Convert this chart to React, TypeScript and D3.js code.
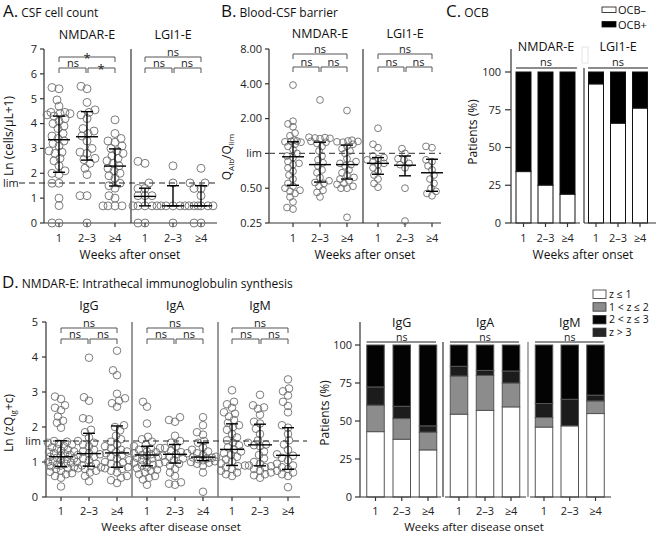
import React from "react";
import * as d3 from "d3";

const FONT = "'Open Sans', 'DejaVu Sans', sans-serif";

const weeks = ["1", "2–3", "≥4"];

// ---------- Panel A: CSF cell count, Ln(cells/µL+1)
const csfTicks = [0, 1, 2, 3, 4, 5, 6, 7];
const csfLim = 1.61;
const csfNmdar = [
  [5.45, 5.4, 4.95, 4.7, 4.45, 4.45, 4.4, 4.4, 4.35, 4.3, 4.2, 4.1, 4.0, 3.9, 3.8, 3.6, 3.5, 3.4, 3.3, 3.2, 3.1, 2.9, 2.85, 2.8, 2.6, 2.5, 2.3, 2.1, 2.0, 1.95, 1.6, 1.6, 1.0, 0.7, 0, 0],
  [5.5, 5.4, 4.85, 4.55, 4.45, 4.35, 4.2, 3.8, 3.7, 3.6, 3.5, 3.3, 3.0, 2.85, 2.8, 2.6, 2.55, 2.4, 2.2, 1.95, 1.1, 1.1, 0],
  [4.15, 3.6, 3.4, 3.3, 3.25, 3.1, 3.0, 2.9, 2.8, 2.7, 2.6, 2.5, 2.4, 2.3, 2.2, 2.1, 2.0, 1.9, 1.8, 1.6, 1.5, 1.4, 1.1, 1.0, 0.69, 0.69, 0.69, 0.69],
];
const csfLgi1 = [
  [2.48, 2.4, 1.61, 1.39, 1.39, 1.1, 1.1, 1.1, 0.69, 0.69, 0.69, 0.69, 0.69, 0, 0],
  [2.3, 1.61, 0.69, 0.69, 0.69, 0.69, 0.69, 0],
  [2.2, 1.61, 1.61, 1.39, 1.39, 1.1, 0.69, 0.69, 0.69, 0.69, 0.69, 0.69, 0, 0],
];
// [median, q1, q3]
const csfStatsNmdar = [[3.35, 2.04, 4.3], [3.47, 2.53, 4.48], [2.29, 1.49, 2.98]];
const csfStatsLgi1 = [[1.07, 0.69, 1.4], [0.69, 0.69, 1.5], [0.69, 0.69, 1.5]];
// [1 vs 2–3, 2–3 vs ≥4, 1 vs ≥4]
const csfSigNmdar = ["ns", "*", "*"];
const csfSigLgi1 = ["ns", "ns", "ns"];

// ---------- Panel B: Blood-CSF barrier, QAlb/Qlim
const qTicks = [0.25, 0.5, 1, 2, 4, 8];
const qTickLabels = ["0.25", "0.50", "lim", "2.00", "4.00", "8.00"];
const qNmdar = [
  [3.9, 1.9, 1.8, 1.7, 1.5, 1.42, 1.3, 1.28, 1.27, 1.26, 1.25, 1.2, 1.15, 1.08, 1.0, 0.95, 0.92, 0.85, 0.82, 0.8, 0.75, 0.7, 0.65, 0.6, 0.55, 0.52, 0.5, 0.48, 0.47, 0.45, 0.42, 0.38, 0.34, 0.33],
  [2.9, 1.38, 1.37, 1.36, 1.35, 1.34, 1.27, 1.25, 1.22, 1.15, 1.05, 0.95, 0.88, 0.83, 0.78, 0.72, 0.68, 0.62, 0.58, 0.56, 0.55, 0.52, 0.48, 0.46, 0.42],
  [2.35, 1.3, 1.28, 1.27, 1.26, 1.25, 1.2, 1.15, 1.1, 1.05, 1.0, 0.9, 0.85, 0.82, 0.8, 0.78, 0.72, 0.68, 0.65, 0.62, 0.6, 0.58, 0.55, 0.54, 0.52, 0.5, 0.5, 0.28],
];
const qLgi1 = [
  [1.65, 1.2, 1.12, 0.95, 0.92, 0.9, 0.88, 0.85, 0.82, 0.8, 0.75, 0.7, 0.65, 0.6, 0.55, 0.51],
  [1.1, 1.0, 0.9, 0.88, 0.82, 0.8, 0.75, 0.5, 0.26],
  [1.15, 1.12, 0.88, 0.85, 0.78, 0.72, 0.65, 0.6, 0.55, 0.5, 0.47, 0.45, 0.43],
];
const qStatsNmdar = [[0.935, 0.53, 1.26], [0.8, 0.565, 1.25], [0.8, 0.6, 1.18]];
const qStatsLgi1 = [[0.82, 0.66, 0.92], [0.79, 0.64, 0.95], [0.68, 0.47, 0.89]];
const qSigNmdar = ["ns", "ns", "ns"];
const qSigLgi1 = ["ns", "ns", "ns"];

// ---------- Panel C: OCB (% patients OCB–)
const ocbNegNmdar = [34, 25, 19];
const ocbNegLgi1 = [92, 66, 76];
const pctTicks = [0, 25, 50, 75, 100];

// ---------- Panel D left: Ln(zQIg+c)
const igClasses = ["IgG", "IgA", "IgM"];
const igTicks = [0, 1, 2, 3, 4, 5];
const igLim = 1.6;
const igG = [
  [2.87, 2.8, 2.62, 2.55, 2.48, 2.3, 2.18, 2.12, 1.98, 1.6, 1.58, 1.55, 1.52, 1.5, 1.45, 1.42, 1.38, 1.35, 1.32, 1.3, 1.28, 1.25, 1.22, 1.2, 1.18, 1.15, 1.12, 1.1, 1.08, 1.05, 1.02, 1.0, 0.98, 0.95, 0.92, 0.9, 0.88, 0.85, 0.82, 0.8, 0.75, 0.72, 0.68, 0.65, 0.6, 0.55, 0.3],
  [3.98, 2.85, 2.75, 2.25, 2.22, 1.92, 1.85, 1.7, 1.6, 1.55, 1.5, 1.45, 1.35, 1.3, 1.25, 1.22, 1.2, 1.15, 1.1, 1.05, 1.0, 0.95, 0.9, 0.88, 0.85, 0.82, 0.8, 0.75, 0.7, 0.6, 0.45],
  [4.18, 3.62, 3.48, 2.95, 2.82, 2.75, 2.68, 2.58, 2.05, 2.0, 1.9, 1.75, 1.65, 1.58, 1.5, 1.45, 1.4, 1.35, 1.3, 1.28, 1.25, 1.2, 1.15, 1.1, 1.05, 1.0, 0.98, 0.95, 0.9, 0.85, 0.82, 0.8, 0.75, 0.7, 0.6, 0.55, 0.48, 0.4],
];
const igA = [
  [2.72, 2.58, 2.1, 1.72, 1.65, 1.58, 1.5, 1.45, 1.4, 1.38, 1.35, 1.3, 1.28, 1.25, 1.22, 1.2, 1.18, 1.15, 1.12, 1.1, 1.05, 1.0, 0.98, 0.95, 0.92, 0.9, 0.85, 0.82, 0.78, 0.75, 0.7, 0.65, 0.6, 0.55, 0.5, 0.35],
  [2.28, 2.2, 2.15, 1.75, 1.6, 1.55, 1.45, 1.4, 1.32, 1.28, 1.25, 1.22, 1.18, 1.15, 1.1, 1.05, 1.0, 0.95, 0.9, 0.8, 0.7, 0.6, 0.42, 0.38, 0.35],
  [2.28, 2.05, 1.85, 1.78, 1.6, 1.55, 1.42, 1.35, 1.3, 1.25, 1.2, 1.15, 1.13, 1.12, 1.1, 1.08, 1.05, 1.02, 1.0, 0.98, 0.95, 0.9, 0.7, 0.15],
];
const igM = [
  [3.05, 2.72, 2.65, 2.55, 2.42, 2.38, 2.3, 2.2, 2.12, 2.05, 2.0, 1.92, 1.8, 1.7, 1.62, 1.55, 1.48, 1.42, 1.36, 1.3, 1.25, 1.2, 1.15, 1.08, 1.02, 0.96, 0.9, 0.88, 0.85, 0.8, 0.75, 0.7, 0.65, 0.6],
  [2.92, 2.62, 2.56, 2.52, 2.35, 2.15, 2.1, 1.95, 1.8, 1.62, 1.55, 1.5, 1.48, 1.45, 1.3, 1.2, 1.1, 1.0, 0.95, 0.9, 0.88, 0.85, 0.8, 0.75, 0.7, 0.65, 0.62, 0.55],
  [3.36, 3.1, 3.02, 2.9, 2.72, 2.6, 2.42, 2.05, 1.98, 1.8, 1.62, 1.5, 1.35, 1.22, 1.18, 1.12, 1.05, 0.95, 0.9, 0.85, 0.8, 0.75, 0.7, 0.65, 0.6, 0.28],
];
const igStatsG = [[1.15, 0.87, 1.61], [1.24, 0.88, 1.82], [1.26, 0.85, 2.03]];
const igStatsA = [[1.2, 0.89, 1.45], [1.22, 0.97, 1.5], [1.14, 1.04, 1.55]];
const igStatsM = [[1.36, 0.9, 2.09], [1.49, 0.89, 2.08], [1.19, 0.79, 1.98]];
const igSig = ["ns", "ns", "ns"];

// ---------- Panel D right: z categories (% patients)
const zCategories = ["z ≤ 1", "1 < z ≤ 2", "2 < z ≤ 3", "z > 3"];
const zIgG = [[43, 17.4, 12, 27.6], [38, 13.6, 8.1, 40.3], [31, 11.7, 4.1, 53.2]];
const zIgA = [[54.5, 25.1, 6.4, 14], [57, 23, 3.3, 16.7], [59.3, 15.7, 7.9, 17.1]];
const zIgM = [[46, 6.3, 9.2, 38.5], [46.8, 0, 17.5, 35.7], [54.9, 8.3, 3.8, 33]];

const zColors = ["#ffffff", "#8c8c8c", "#1c1c1c", "#030303"];
const zLegendColors = ["#ffffff", "#8c8c8c", "#050505", "#262626"];

const AXIS = "#333";
const DOT = "#6e6e6e";

function swarm(ys: number[], r: number, maxHalf: number): number[] {
  const order = ys.map((_, i) => i).sort((a, b) => ys[b] - ys[a]);
  const placed: { x: number; y: number }[] = [];
  const out = new Array(ys.length).fill(0);
  const minD = 2 * r * 0.8;
  for (const i of order) {
    const y = ys[i];
    let best = 0;
    let bestScore = -Infinity;
    for (let k = 0; k <= 2 * maxHalf; k++) {
      const off = (k % 2 === 0 ? 1 : -1) * Math.ceil(k / 2);
      let md = Infinity;
      for (const p of placed) {
        const dy = p.y - y;
        if (Math.abs(dy) < minD) {
          const d = Math.hypot(p.x - off, dy);
          if (d < md) md = d;
        }
      }
      if (md >= minD) {
        best = off;
        bestScore = Infinity;
        break;
      }
      if (md > bestScore + 0.5) {
        bestScore = md;
        best = off;
      }
    }
    placed.push({ x: best, y });
    out[i] = best;
  }
  return out;
}

function ScatterSet(props: {
  values: number[];
  cx: number;
  y: (v: number) => number;
  r: number;
  maxHalf: number;
  stats: number[];
  med?: number;
  cap?: number;
}) {
  const { values, cx, y, r, maxHalf, stats } = props;
  const med = props.med ?? 11;
  const cap = props.cap ?? 6;
  const ys = values.map((v) => y(v));
  const offs = swarm(ys, r, maxHalf);
  const [m, q1, q3] = stats;
  return (
    <g>
      {ys.map((yy, i) => (
        <circle key={i} cx={cx + offs[i]} cy={yy} r={r} fill="none" stroke={DOT} strokeWidth={0.9} />
      ))}
      <g stroke="#000" strokeWidth={1.4}>
        <line x1={cx} x2={cx} y1={y(q1)} y2={y(q3)} />
        <line x1={cx - cap} x2={cx + cap} y1={y(q1)} y2={y(q1)} />
        <line x1={cx - cap} x2={cx + cap} y1={y(q3)} y2={y(q3)} />
        <line x1={cx - med} x2={cx + med} y1={y(m)} y2={y(m)} />
      </g>
    </g>
  );
}

function Brackets(props: { xs: number[]; yLow: number; yTop: number; labels: string[] }) {
  const [x1, x2, x3] = props.xs;
  const { yLow, yTop, labels } = props;
  const leg = 5;
  const lbl = (t: string, cx: number, ly: number, key: string) =>
    t === "*" ? (
      <text key={key} x={cx} y={ly + 6} fontSize={13} textAnchor="middle">*</text>
    ) : (
      <text key={key} x={cx} y={ly - 1.5} fontSize={11} textAnchor="middle">{t}</text>
    );
  return (
    <g>
      <path
        d={`M${x1},${yLow + leg}V${yLow}H${x2 - 1}V${yLow + leg}M${x2 + 1},${yLow + leg}V${yLow}H${x3}V${yLow + leg}M${x1},${yTop + leg}V${yTop}H${x3}V${yTop + leg}`}
        fill="none"
        stroke="#555"
        strokeWidth={1}
      />
      <g fill="#222">
        {lbl(labels[0], (x1 + x2) / 2, yLow, "a")}
        {lbl(labels[1], (x2 + x3) / 2, yLow, "b")}
        {lbl(labels[2], x2, yTop, "c")}
      </g>
    </g>
  );
}

function XTicks(props: { xs: number[]; y0: number; labelY: number }) {
  return (
    <g>
      {props.xs.map((x, i) => (
        <g key={i}>
          <line x1={x} x2={x} y1={props.y0} y2={props.y0 + 4} stroke={AXIS} strokeWidth={1.2} />
          <text x={x} y={props.labelY} fontSize={11} textAnchor="middle" fill="#222">{weeks[i]}</text>
        </g>
      ))}
    </g>
  );
}

export default function App() {
  // ---- Panel A scales
  const aY = d3.scaleLinear().domain([0, 7]).range([223, 49]);
  const aXN = d3.scalePoint<string>().domain(weeks).range([59, 115]);
  const aXL = d3.scalePoint<string>().domain(weeks).range([145, 201]);
  // ---- Panel B scales
  const bY = d3.scaleLog().base(2).domain([0.25, 8]).range([223, 49]);
  const bXN = d3.scalePoint<string>().domain(weeks).range([293, 347]);
  const bXL = d3.scalePoint<string>().domain(weeks).range([378, 432]);
  // ---- Panel C scales
  const cY = d3.scaleLinear().domain([0, 100]).range([223, 72]);
  const cXN = d3.scalePoint<string>().domain(weeks).range([523.5, 567.5]);
  const cXL = d3.scalePoint<string>().domain(weeks).range([596, 640]);
  const cBarW = 15;
  // ---- Panel D left
  const dY = d3.scaleLinear().domain([0, 5]).range([497, 322]);
  const dXs = [
    d3.scalePoint<string>().domain(weeks).range([61, 117]),
    d3.scalePoint<string>().domain(weeks).range([147, 203]),
    d3.scalePoint<string>().domain(weeks).range([232, 288]),
  ];
  const igData = [igG, igA, igM];
  const igStats = [igStatsG, igStatsA, igStatsM];
  // ---- Panel D right
  const eY = d3.scaleLinear().domain([0, 100]).range([497, 345]);
  const eXs = [
    d3.scalePoint<string>().domain(weeks).range([375.5, 428]),
    d3.scalePoint<string>().domain(weeks).range([459, 511]),
    d3.scalePoint<string>().domain(weeks).range([544, 595.5]),
  ];
  const zData = [zIgG, zIgA, zIgM];
  const eBarW = 17.5;

  const xsOf = (s: d3.ScalePoint<string>) => weeks.map((w) => s(w) as number);

  return (
    <svg
      width={656}
      height={534}
      viewBox="0 0 656 534"
      style={{ position: "absolute", left: 0, top: 0, background: "#fff" }}
      fontFamily={FONT}
    >
      <rect x={0} y={0} width={656} height={534} fill="#fff" />

      {/* ================= Panel A ================= */}
      <g>
        <text x={3} y={17} fill="#111">
          <tspan fontSize={17}>A.</tspan>
          <tspan fontSize={12} dx={3}>CSF cell count</tspan>
        </text>
        <text x={87} y={39} fontSize={12.5} textAnchor="middle" fill="#111">NMDAR-E</text>
        <text x={173} y={39} fontSize={12.5} textAnchor="middle" fill="#111">LGI1-E</text>
        <text transform="translate(13,136) rotate(-90)" fontSize={12} textAnchor="middle" fill="#111">Ln (cells/μL+1)</text>
        {csfTicks.map((t) => (
          <g key={t}>
            <line x1={40} x2={44} y1={aY(t)} y2={aY(t)} stroke={AXIS} strokeWidth={1.2} />
            <text x={37} y={aY(t)} dy="0.35em" fontSize={11} textAnchor="end" fill="#222">{t}</text>
          </g>
        ))}
        <text x={3} y={aY(csfLim)} dy="0.35em" fontSize={11} fill="#222">lim</text>
        <line x1={44} x2={44} y1={49} y2={223} stroke={AXIS} strokeWidth={1.2} />
        <line x1={44} x2={217} y1={223} y2={223} stroke={AXIS} strokeWidth={1.2} />
        <line x1={131} x2={131} y1={49} y2={223} stroke={AXIS} strokeWidth={1.2} />
        <XTicks xs={xsOf(aXN)} y0={223} labelY={242} />
        <XTicks xs={xsOf(aXL)} y0={223} labelY={242} />
        {csfNmdar.map((vals, i) => (
          <ScatterSet key={"an" + i} values={vals} cx={aXN(weeks[i]) as number} y={aY} r={4} maxHalf={12} stats={csfStatsNmdar[i]} />
        ))}
        {csfLgi1.map((vals, i) => (
          <ScatterSet key={"al" + i} values={vals} cx={aXL(weeks[i]) as number} y={aY} r={4} maxHalf={12} stats={csfStatsLgi1[i]} />
        ))}
        <line x1={19} x2={217} y1={aY(csfLim)} y2={aY(csfLim)} stroke="#222" strokeWidth={1.2} strokeDasharray="6,4" />
        <Brackets xs={xsOf(aXN)} yLow={68} yTop={57} labels={csfSigNmdar} />
        <Brackets xs={xsOf(aXL)} yLow={68} yTop={57} labels={csfSigLgi1} />
        <text x={130} y={258.5} fontSize={12} textAnchor="middle" fill="#111">Weeks after onset</text>
      </g>

      {/* ================= Panel B ================= */}
      <g>
        <text x={221} y={17} fill="#111">
          <tspan fontSize={17}>B.</tspan>
          <tspan fontSize={12} dx={3}>Blood-CSF barrier</tspan>
        </text>
        <text x={320} y={37.5} fontSize={12.5} textAnchor="middle" fill="#111">NMDAR-E</text>
        <text x={405} y={37.5} fontSize={12.5} textAnchor="middle" fill="#111">LGI1-E</text>
        <text transform="translate(231,157) rotate(-90)" fontSize={12} textAnchor="middle" fill="#111">
          Q<tspan fontSize={8} dy={3}>Alb</tspan>
          <tspan dy={-3}>/Q</tspan>
          <tspan fontSize={8} dy={3}>lim</tspan>
        </text>
        {qTicks.map((t, i) => (
          <g key={t}>
            <line x1={265} x2={269} y1={bY(t)} y2={bY(t)} stroke={AXIS} strokeWidth={1.2} />
            <text x={262} y={bY(t)} dy="0.35em" fontSize={11} textAnchor="end" fill="#222">{qTickLabels[i]}</text>
          </g>
        ))}
        <line x1={269} x2={269} y1={49} y2={223} stroke={AXIS} strokeWidth={1.2} />
        <line x1={269} x2={441} y1={223} y2={223} stroke={AXIS} strokeWidth={1.2} />
        <line x1={363} x2={363} y1={49} y2={223} stroke={AXIS} strokeWidth={1.2} />
        <XTicks xs={xsOf(bXN)} y0={223} labelY={242} />
        <XTicks xs={xsOf(bXL)} y0={223} labelY={242} />
        {qNmdar.map((vals, i) => (
          <ScatterSet key={"bn" + i} values={vals} cx={bXN(weeks[i]) as number} y={bY} r={3.4} maxHalf={11} stats={qStatsNmdar[i]} />
        ))}
        {qLgi1.map((vals, i) => (
          <ScatterSet key={"bl" + i} values={vals} cx={bXL(weeks[i]) as number} y={bY} r={3.4} maxHalf={11} stats={qStatsLgi1[i]} />
        ))}
        <line x1={269} x2={441} y1={bY(1)} y2={bY(1)} stroke="#555" strokeWidth={1.2} strokeDasharray="6,4" />
        <Brackets xs={xsOf(bXN)} yLow={67} yTop={54} labels={qSigNmdar} />
        <Brackets xs={xsOf(bXL)} yLow={67} yTop={54} labels={qSigLgi1} />
        <text x={365} y={258.5} fontSize={12} textAnchor="middle" fill="#111">Weeks after onset</text>
      </g>

      {/* ================= Panel C ================= */}
      <g>
        <text x={446} y={17} fill="#111">
          <tspan fontSize={17}>C.</tspan>
          <tspan fontSize={12} dx={3}>OCB</tspan>
        </text>
        <rect x={602} y={7} width={14} height={5.5} fill="#fff" stroke="#111" strokeWidth={0.8} />
        <text x={618} y={14} fontSize={11} fill="#111">OCB–</text>
        <rect x={602} y={21.5} width={14} height={5.5} fill="#000" stroke="#111" strokeWidth={0.8} />
        <text x={618} y={28.5} fontSize={11} fill="#111">OCB+</text>
        <text x={546} y={50.5} fontSize={12.5} textAnchor="middle" fill="#111">NMDAR-E</text>
        <text x={618} y={50.5} fontSize={12.5} textAnchor="middle" fill="#111">LGI1-E</text>
        <text x={546} y={66} fontSize={11} textAnchor="middle" fill="#222">ns</text>
        <text x={618} y={66} fontSize={11} textAnchor="middle" fill="#222">ns</text>
        <line x1={516} x2={577} y1={68} y2={68} stroke="#666" strokeWidth={1.3} />
        <line x1={588} x2={648} y1={68} y2={68} stroke="#666" strokeWidth={1.3} />
        <text transform="translate(477,132) rotate(-90)" fontSize={12} textAnchor="middle" fill="#111">Patients (%)</text>
        {pctTicks.map((t) => (
          <g key={t}>
            <line x1={505} x2={511} y1={cY(t)} y2={cY(t)} stroke={AXIS} strokeWidth={1.2} />
            <text x={501} y={cY(t)} dy="0.35em" fontSize={11} textAnchor="end" fill="#222">{t}</text>
          </g>
        ))}
        {[
          { s: cXN, d: ocbNegNmdar },
          { s: cXL, d: ocbNegLgi1 },
        ].map(({ s, d }, gi) =>
          d.map((neg, i) => {
            const cx = s(weeks[i]) as number;
            return (
              <g key={gi + "-" + i}>
                <rect x={cx - cBarW / 2} y={cY(100)} width={cBarW} height={cY(neg) - cY(100)} fill="#000" stroke="#111" strokeWidth={1} />
                <rect x={cx - cBarW / 2} y={cY(neg)} width={cBarW} height={cY(0) - cY(neg)} fill="#fff" stroke="#111" strokeWidth={1} />
              </g>
            );
          })
        )}
        <line x1={511} x2={511} y1={49} y2={223} stroke={AXIS} strokeWidth={1.2} />
        <line x1={584} x2={584} y1={68} y2={223} stroke={AXIS} strokeWidth={1.2} />
        <rect x={582} y={47} width={6} height={16} fill="none" stroke="#e4e4e4" strokeWidth={1} />
        <line x1={511} x2={580} y1={223} y2={223} stroke={AXIS} strokeWidth={1.2} />
        <line x1={584} x2={656} y1={223} y2={223} stroke={AXIS} strokeWidth={1.2} />
        <XTicks xs={xsOf(cXN)} y0={223} labelY={242} />
        <XTicks xs={xsOf(cXL)} y0={223} labelY={242} />
        <text x={583} y={258.5} fontSize={12} textAnchor="middle" fill="#111">Weeks after onset</text>
      </g>

      {/* ================= Panel D left ================= */}
      <g>
        <text x={2} y={288} fill="#111">
          <tspan fontSize={17}>D.</tspan>
          <tspan fontSize={12} dx={3}>NMDAR-E: Intrathecal immunoglobulin synthesis</tspan>
        </text>
        {igClasses.map((c, i) => (
          <text key={c} x={dXs[i](weeks[1]) as number} y={310} fontSize={12.5} textAnchor="middle" fill="#111">{c}</text>
        ))}
        <text transform="translate(13,423) rotate(-90)" fontSize={12} textAnchor="middle" fill="#111">
          Ln (zQ<tspan fontSize={8} dy={3}>Ig</tspan>
          <tspan dy={-3}>+c)</tspan>
        </text>
        {igTicks.map((t) => (
          <g key={t}>
            <line x1={42} x2={46} y1={dY(t)} y2={dY(t)} stroke={AXIS} strokeWidth={1.2} />
            <text x={38} y={dY(t)} dy="0.35em" fontSize={11} textAnchor="end" fill="#222">{t}</text>
          </g>
        ))}
        <text x={41} y={dY(igLim)} dy="0.35em" fontSize={11} textAnchor="end" fill="#222">lim</text>
        <line x1={46} x2={46} y1={322} y2={497} stroke={AXIS} strokeWidth={1.2} />
        <line x1={46} x2={300} y1={497} y2={497} stroke={AXIS} strokeWidth={1.2} />
        <line x1={132} x2={132} y1={322} y2={497} stroke="#777" strokeWidth={1.5} />
        <line x1={218} x2={218} y1={322} y2={497} stroke="#777" strokeWidth={1.5} />
        {dXs.map((s, k) => (
          <XTicks key={k} xs={xsOf(s)} y0={497} labelY={515} />
        ))}
        {igData.map((grp, k) =>
          grp.map((vals, i) => (
            <ScatterSet key={k + "-" + i} values={vals} cx={dXs[k](weeks[i]) as number} y={dY} r={3.8} maxHalf={13} stats={igStats[k][i]} med={12} />
          ))
        )}
        <line x1={43} x2={307} y1={dY(igLim)} y2={dY(igLim)} stroke="#222" strokeWidth={1.2} strokeDasharray="6,4" />
        {dXs.map((s, k) => (
          <Brackets key={k} xs={xsOf(s)} yLow={339} yTop={328} labels={igSig} />
        ))}
        <text x={171} y={530.5} fontSize={11.5} textAnchor="middle" fill="#111">Weeks after disease onset</text>
      </g>

      {/* ================= Panel D right ================= */}
      <g>
        <text transform="translate(329,413) rotate(-90)" fontSize={12} textAnchor="middle" fill="#111">Patients (%)</text>
        {pctTicks.map((t) => (
          <g key={t}>
            <line x1={355} x2={360} y1={eY(t)} y2={eY(t)} stroke={AXIS} strokeWidth={1.2} />
            <text x={352} y={eY(t)} dy="0.35em" fontSize={11} textAnchor="end" fill="#222">{t}</text>
          </g>
        ))}
        {igClasses.map((c, k) => {
          const xs = xsOf(eXs[k]);
          return (
            <g key={c}>
              <text x={xs[1]} y={326.5} fontSize={12.5} textAnchor="middle" fill="#111">{c}</text>
              <text x={xs[1]} y={340.5} fontSize={10.5} textAnchor="middle" fill="#222">ns</text>
              <line x1={xs[0] - 9} x2={xs[2] + 8} y1={342} y2={342} stroke="#222" strokeWidth={1} />
            </g>
          );
        })}
        {zData.map((grp, k) =>
          grp.map((shares, i) => {
            const cx = eXs[k](weeks[i]) as number;
            const cum = [0, ...Array.from(d3.cumsum(shares))];
            return (
              <g key={k + "-" + i}>
                {shares.map((s, j) =>
                  s > 0 ? (
                    <rect key={j} x={cx - eBarW / 2} y={eY(cum[j + 1])} width={eBarW} height={eY(cum[j]) - eY(cum[j + 1])} fill={zColors[j]} stroke="#555" strokeWidth={1} />
                  ) : null
                )}
              </g>
            );
          })
        )}
        <line x1={360} x2={360} y1={322} y2={497} stroke={AXIS} strokeWidth={1.2} />
        <line x1={443} x2={443} y1={342} y2={497} stroke={AXIS} strokeWidth={1.2} />
        <line x1={528} x2={528} y1={342} y2={497} stroke="#777" strokeWidth={1.2} />
        <line x1={360} x2={441} y1={497} y2={497} stroke={AXIS} strokeWidth={1.2} />
        <line x1={445} x2={526} y1={497} y2={497} stroke={AXIS} strokeWidth={1.2} />
        <line x1={530} x2={611} y1={497} y2={497} stroke={AXIS} strokeWidth={1.2} />
        {eXs.map((s, k) => (
          <XTicks key={k} xs={xsOf(s)} y0={497} labelY={515} />
        ))}
        {zCategories.map((c, j) => (
          <g key={c}>
            <rect x={593} y={290 + j * 12.7} width={13} height={8.5} fill={zLegendColors[j]} stroke="#333" strokeWidth={0.8} />
            <text x={609} y={298 + j * 12.7} fontSize={10.5} fill="#111">{c}</text>
          </g>
        ))}
        <text x={474} y={530.5} fontSize={11.5} textAnchor="middle" fill="#111">Weeks after disease onset</text>
      </g>
    </svg>
  );
}
